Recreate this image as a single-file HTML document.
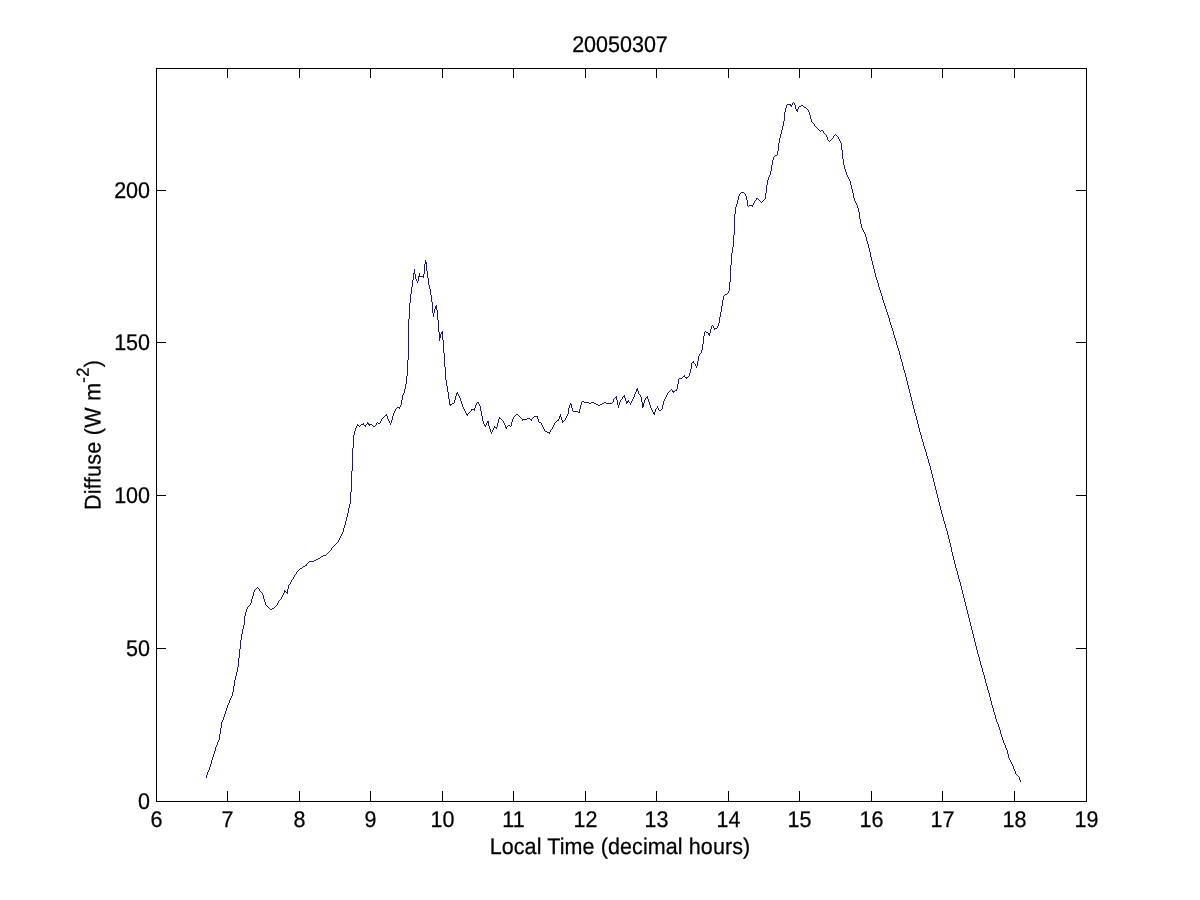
<!DOCTYPE html>
<html lang="en">
<head>
<meta charset="utf-8">
<title>20050307</title>
<style>
html,body{margin:0;padding:0;background:#fff;}
body{width:1200px;height:900px;position:relative;overflow:hidden;
  font-family:"Liberation Sans",sans-serif;font-size:21.5px;color:#000;line-height:30px;-webkit-text-stroke:0.25px #000;}
svg{position:absolute;left:0;top:0;shape-rendering:crispEdges;}
.xt,.yt,.title,.xlabel{transform:rotate(0.03deg) scaleY(1.055);transform-origin:50% 75%;}
.xt{position:absolute;top:805px;width:61px;text-align:center;white-space:nowrap;}
.yt{position:absolute;left:0;width:150px;text-align:right;white-space:nowrap;}
.title{position:absolute;left:319.5px;width:600px;top:30px;text-align:center;white-space:nowrap;}
.xlabel{letter-spacing:0.1px;position:absolute;left:320px;width:600px;top:832px;text-align:center;white-space:nowrap;}
.ylabel{letter-spacing:0.3px;position:absolute;left:93.3px;top:434.5px;width:0;height:0;white-space:nowrap;}
.ylabel span.r{position:absolute;left:0;top:0;display:block;transform:translate(-50%,-50%) rotate(-90.03deg) scaleY(1.055);transform-origin:50% 50%;line-height:30px;}
.ylabel sup{font-size:16.5px;vertical-align:baseline;position:relative;top:-11px;line-height:0;}
</style>
</head>
<body>
<svg width="1200" height="900" viewBox="0 0 1200 900">
<rect x="156.5" y="68.5" width="930" height="733" fill="none" stroke="#000" stroke-width="1"/>
<path d="M227.5 801.5V791M227.5 68.5V78M299.5 801.5V791M299.5 68.5V78M370.5 801.5V791M370.5 68.5V78M442.5 801.5V791M442.5 68.5V78M513.5 801.5V791M513.5 68.5V78M585.5 801.5V791M585.5 68.5V78M656.5 801.5V791M656.5 68.5V78M728.5 801.5V791M728.5 68.5V78M799.5 801.5V791M799.5 68.5V78M871.5 801.5V791M871.5 68.5V78M942.5 801.5V791M942.5 68.5V78M1014.5 801.5V791M1014.5 68.5V78M156.5 648.5H166M1086.5 648.5H1076M156.5 495.5H166M1086.5 495.5H1076M156.5 342.5H166M1086.5 342.5H1076M156.5 190.5H166M1086.5 190.5H1076" fill="none" stroke="#000" stroke-width="1"/>
<path d="M206 775h1v3h-1zM207 772h1v3h-1zM208 770h1v2h-1zM209 767h1v3h-1zM210 764h1v3h-1zM211 760h1v4h-1zM212 757h1v3h-1zM213 754h1v3h-1zM214 751h1v3h-1zM215 747h1v4h-1zM216 745h1v2h-1zM217 742h1v3h-1zM218 740h1v2h-1zM219 734h1v6h-1zM220 728h1v6h-1zM221 722h1v6h-1zM222 720h1v2h-1zM223 717h1v3h-1zM224 714h1v3h-1zM225 711h1v3h-1zM226 708h1v3h-1zM227 705h1v3h-1zM228 703h1v2h-1zM229 700h1v3h-1zM230 698h1v2h-1zM231 696h1v2h-1zM232 692h1v4h-1zM233 686h1v6h-1zM234 680h1v6h-1zM235 676h1v4h-1zM236 672h1v4h-1zM237 667h1v5h-1zM238 658h1v9h-1zM239 649h1v9h-1zM240 640h1v9h-1zM241 634h1v6h-1zM242 629h1v5h-1zM243 625h1v4h-1zM244 616h1v9h-1zM245 612h1v4h-1zM246 609h1v3h-1zM247 607h1v2h-1zM248 606h1v1h-1zM249 605h1v1h-1zM250 603h1v2h-1zM251 599h1v4h-1zM252 596h1v3h-1zM253 592h1v4h-1zM254 590h1v2h-1zM255 589h1v1h-1zM256 588h1v1h-1zM257 587h1v1h-1zM258 588h1v1h-1zM259 589h1v2h-1zM260 591h1v1h-1zM261 592h1v1h-1zM262 593h1v2h-1zM263 595h1v4h-1zM264 599h1v3h-1zM265 602h1v3h-1zM266 605h1v1h-1zM267 606h1v1h-1zM268 607h1v1h-1zM269 608h1v1h-1zM270 609h1v1h-1zM271 609h1v1h-1zM272 608h1v1h-1zM273 608h1v1h-1zM274 607h1v1h-1zM275 606h1v1h-1zM276 605h1v1h-1zM277 603h1v2h-1zM278 601h1v2h-1zM279 600h1v1h-1zM280 599h1v1h-1zM281 597h1v2h-1zM282 595h1v2h-1zM283 593h1v2h-1zM284 590h1v3h-1zM285 591h1v1h-1zM286 592h1v1h-1zM287 589h1v5h-1zM288 585h1v4h-1zM289 584h1v1h-1zM290 582h1v2h-1zM291 580h1v2h-1zM292 579h1v1h-1zM293 577h1v2h-1zM294 575h1v2h-1zM295 574h1v1h-1zM296 572h1v2h-1zM297 571h1v1h-1zM298 570h1v1h-1zM299 569h1v1h-1zM300 568h1v1h-1zM301 568h1v1h-1zM302 567h1v1h-1zM303 566h1v1h-1zM304 566h1v1h-1zM305 565h1v1h-1zM306 564h1v2h-1zM307 563h1v1h-1zM308 562h1v1h-1zM309 561h1v1h-1zM310 561h1v1h-1zM311 561h1v1h-1zM312 561h1v1h-1zM313 561h1v1h-1zM314 560h1v1h-1zM315 560h1v1h-1zM316 559h1v1h-1zM317 559h1v1h-1zM318 558h1v1h-1zM319 558h1v1h-1zM320 557h1v1h-1zM321 556h1v1h-1zM322 556h1v1h-1zM323 555h1v1h-1zM324 555h1v1h-1zM325 555h1v1h-1zM326 554h1v1h-1zM327 553h1v1h-1zM328 552h1v1h-1zM329 551h1v1h-1zM330 550h1v1h-1zM331 548h1v2h-1zM332 547h1v1h-1zM333 546h1v1h-1zM334 545h1v1h-1zM335 544h1v1h-1zM336 543h1v1h-1zM337 542h1v1h-1zM338 540h1v2h-1zM339 538h1v2h-1zM340 536h1v2h-1zM341 534h1v2h-1zM342 532h1v2h-1zM343 528h1v4h-1zM344 525h1v3h-1zM345 521h1v4h-1zM346 517h1v4h-1zM347 513h1v4h-1zM348 508h1v5h-1zM349 504h1v4h-1zM350 492h1v12h-1zM351 471h1v21h-1zM352 448h1v23h-1zM353 435h1v13h-1zM354 431h1v4h-1zM355 428h1v3h-1zM356 426h1v2h-1zM357 424h1v2h-1zM358 425h1v1h-1zM359 426h1v1h-1zM360 425h1v1h-1zM361 424h1v1h-1zM362 424h1v1h-1zM363 423h1v2h-1zM364 425h1v1h-1zM365 425h1v2h-1zM366 424h1v1h-1zM367 422h1v2h-1zM368 423h1v2h-1zM369 424h1v2h-1zM370 424h1v1h-1zM371 424h1v1h-1zM372 425h1v1h-1zM373 426h1v1h-1zM374 426h1v1h-1zM375 425h1v1h-1zM376 423h1v2h-1zM377 422h1v1h-1zM378 423h1v1h-1zM379 423h1v1h-1zM380 421h1v2h-1zM381 419h1v2h-1zM382 418h1v1h-1zM383 417h1v1h-1zM384 416h1v1h-1zM385 415h1v1h-1zM386 414h1v2h-1zM387 416h1v3h-1zM388 419h1v2h-1zM389 421h1v2h-1zM390 423h1v2h-1zM391 420h1v3h-1zM392 416h1v4h-1zM393 413h1v3h-1zM394 411h1v2h-1zM395 409h1v2h-1zM396 408h1v1h-1zM397 407h1v1h-1zM398 407h1v1h-1zM399 407h1v2h-1zM400 405h1v2h-1zM401 400h1v5h-1zM402 395h1v5h-1zM403 393h1v2h-1zM404 389h1v4h-1zM405 384h1v5h-1zM406 376h1v8h-1zM407 360h1v16h-1zM408 319h1v41h-1zM409 303h1v16h-1zM410 294h1v9h-1zM411 287h1v7h-1zM412 280h1v7h-1zM413 273h1v7h-1zM414 269h1v5h-1zM415 274h1v5h-1zM416 279h1v2h-1zM417 281h1v2h-1zM418 276h1v5h-1zM419 273h1v4h-1zM420 276h1v1h-1zM421 276h1v1h-1zM422 276h1v1h-1zM423 274h1v4h-1zM424 264h1v10h-1zM425 260h1v4h-1zM426 262h1v9h-1zM427 271h1v7h-1zM428 278h1v7h-1zM429 285h1v4h-1zM430 289h1v6h-1zM431 295h1v7h-1zM432 302h1v11h-1zM433 313h1v4h-1zM434 309h1v4h-1zM435 306h1v3h-1zM436 305h1v5h-1zM437 310h1v10h-1zM438 320h1v12h-1zM439 332h1v9h-1zM440 334h1v4h-1zM441 332h1v2h-1zM442 331h1v9h-1zM443 340h1v13h-1zM444 353h1v14h-1zM445 367h1v13h-1zM446 380h1v6h-1zM447 386h1v6h-1zM448 392h1v7h-1zM449 399h1v6h-1zM450 404h1v2h-1zM451 404h1v1h-1zM452 403h1v1h-1zM453 403h1v1h-1zM454 400h1v3h-1zM455 396h1v4h-1zM456 393h1v3h-1zM457 392h1v2h-1zM458 394h1v2h-1zM459 396h1v2h-1zM460 398h1v3h-1zM461 401h1v3h-1zM462 404h1v3h-1zM463 407h1v2h-1zM464 409h1v2h-1zM465 411h1v2h-1zM466 413h1v2h-1zM467 414h1v2h-1zM468 413h1v1h-1zM469 412h1v1h-1zM470 411h1v1h-1zM471 409h1v2h-1zM472 409h1v1h-1zM473 409h1v1h-1zM474 408h1v3h-1zM475 405h1v3h-1zM476 403h1v2h-1zM477 402h1v1h-1zM478 402h1v2h-1zM479 404h1v2h-1zM480 406h1v5h-1zM481 411h1v5h-1zM482 416h1v5h-1zM483 421h1v3h-1zM484 424h1v2h-1zM485 425h1v2h-1zM486 423h1v2h-1zM487 421h1v2h-1zM488 421h1v5h-1zM489 426h1v3h-1zM490 429h1v3h-1zM491 432h1v2h-1zM492 430h1v2h-1zM493 428h1v2h-1zM494 426h1v2h-1zM495 427h1v1h-1zM496 427h1v2h-1zM497 423h1v4h-1zM498 419h1v4h-1zM499 417h1v2h-1zM500 418h1v1h-1zM501 419h1v1h-1zM502 420h1v1h-1zM503 421h1v2h-1zM504 423h1v2h-1zM505 425h1v3h-1zM506 427h1v2h-1zM507 426h1v1h-1zM508 425h1v1h-1zM509 425h1v1h-1zM510 426h1v1h-1zM511 422h1v4h-1zM512 419h1v3h-1zM513 417h1v2h-1zM514 416h1v1h-1zM515 415h1v1h-1zM516 414h1v1h-1zM517 414h1v1h-1zM518 415h1v1h-1zM519 416h1v1h-1zM520 417h1v1h-1zM521 418h1v1h-1zM522 419h1v2h-1zM523 419h1v1h-1zM524 419h1v1h-1zM525 419h1v1h-1zM526 419h1v1h-1zM527 418h1v1h-1zM528 418h1v1h-1zM529 418h1v1h-1zM530 419h1v1h-1zM531 419h1v2h-1zM532 418h1v1h-1zM533 417h1v1h-1zM534 416h1v1h-1zM535 416h1v1h-1zM536 416h1v1h-1zM537 416h1v3h-1zM538 419h1v3h-1zM539 422h1v1h-1zM540 422h1v1h-1zM541 423h1v2h-1zM542 425h1v2h-1zM543 427h1v2h-1zM544 429h1v2h-1zM545 431h1v1h-1zM546 431h1v1h-1zM547 432h1v1h-1zM548 432h1v1h-1zM549 432h1v2h-1zM550 430h1v2h-1zM551 429h1v1h-1zM552 427h1v2h-1zM553 425h1v2h-1zM554 423h1v2h-1zM555 422h1v1h-1zM556 421h1v1h-1zM557 420h1v1h-1zM558 419h1v2h-1zM559 416h1v3h-1zM560 414h1v3h-1zM561 417h1v3h-1zM562 420h1v3h-1zM563 421h1v1h-1zM564 420h1v1h-1zM565 418h1v2h-1zM566 416h1v2h-1zM567 414h1v2h-1zM568 408h1v6h-1zM569 405h1v3h-1zM570 403h1v2h-1zM571 404h1v4h-1zM572 408h1v3h-1zM573 411h1v1h-1zM574 411h1v1h-1zM575 411h1v1h-1zM576 411h1v1h-1zM577 411h1v1h-1zM578 412h1v1h-1zM579 409h1v4h-1zM580 405h1v4h-1zM581 402h1v3h-1zM582 401h1v1h-1zM583 401h1v1h-1zM584 402h1v1h-1zM585 402h1v1h-1zM586 402h1v1h-1zM587 402h1v1h-1zM588 402h1v1h-1zM589 403h1v1h-1zM590 403h1v1h-1zM591 402h1v1h-1zM592 402h1v1h-1zM593 402h1v1h-1zM594 403h1v1h-1zM595 403h1v1h-1zM596 404h1v1h-1zM597 404h1v1h-1zM598 405h1v1h-1zM599 405h1v1h-1zM600 404h1v1h-1zM601 404h1v1h-1zM602 403h1v1h-1zM603 403h1v1h-1zM604 402h1v1h-1zM605 402h1v1h-1zM606 403h1v1h-1zM607 403h1v1h-1zM608 403h1v1h-1zM609 403h1v1h-1zM610 403h1v1h-1zM611 403h1v1h-1zM612 402h1v1h-1zM613 399h1v3h-1zM614 398h1v1h-1zM615 397h1v1h-1zM616 396h1v4h-1zM617 400h1v5h-1zM618 405h1v3h-1zM619 402h1v3h-1zM620 400h1v2h-1zM621 399h1v1h-1zM622 397h1v2h-1zM623 396h1v1h-1zM624 395h1v3h-1zM625 398h1v3h-1zM626 401h1v3h-1zM627 401h1v2h-1zM628 400h1v2h-1zM629 402h1v1h-1zM630 403h1v2h-1zM631 401h1v2h-1zM632 399h1v2h-1zM633 397h1v2h-1zM634 394h1v3h-1zM635 392h1v2h-1zM636 389h1v3h-1zM637 388h1v3h-1zM638 391h1v3h-1zM639 394h1v1h-1zM640 395h1v2h-1zM641 397h1v5h-1zM642 402h1v6h-1zM643 403h1v4h-1zM644 400h1v3h-1zM645 398h1v2h-1zM646 397h1v1h-1zM647 396h1v3h-1zM648 399h1v3h-1zM649 402h1v3h-1zM650 405h1v3h-1zM651 408h1v2h-1zM652 410h1v2h-1zM653 412h1v2h-1zM654 412h1v3h-1zM655 409h1v3h-1zM656 408h1v1h-1zM657 406h1v2h-1zM658 408h1v2h-1zM659 410h1v1h-1zM660 410h1v1h-1zM661 409h1v1h-1zM662 405h1v4h-1zM663 401h1v4h-1zM664 399h1v2h-1zM665 397h1v2h-1zM666 395h1v2h-1zM667 393h1v2h-1zM668 392h1v1h-1zM669 391h1v1h-1zM670 390h1v1h-1zM671 389h1v1h-1zM672 390h1v2h-1zM673 391h1v2h-1zM674 391h1v1h-1zM675 390h1v1h-1zM676 389h1v2h-1zM677 384h1v5h-1zM678 379h1v5h-1zM679 378h1v1h-1zM680 378h1v1h-1zM681 378h1v1h-1zM682 377h1v1h-1zM683 376h1v1h-1zM684 375h1v2h-1zM685 377h1v1h-1zM686 377h1v2h-1zM687 377h1v1h-1zM688 376h1v1h-1zM689 373h1v3h-1zM690 369h1v4h-1zM691 363h1v6h-1zM692 362h1v1h-1zM693 361h1v2h-1zM694 363h1v1h-1zM695 364h1v2h-1zM696 366h1v2h-1zM697 361h1v5h-1zM698 356h1v5h-1zM699 354h1v2h-1zM700 353h1v1h-1zM701 350h1v3h-1zM702 344h1v6h-1zM703 336h1v8h-1zM704 332h1v4h-1zM705 331h1v1h-1zM706 332h1v1h-1zM707 332h1v1h-1zM708 333h1v2h-1zM709 333h1v3h-1zM710 329h1v4h-1zM711 326h1v3h-1zM712 325h1v1h-1zM713 326h1v2h-1zM714 328h1v2h-1zM715 328h1v1h-1zM716 328h1v1h-1zM717 326h1v2h-1zM718 323h1v3h-1zM719 317h1v6h-1zM720 312h1v5h-1zM721 306h1v6h-1zM722 300h1v6h-1zM723 296h1v4h-1zM724 295h1v1h-1zM725 294h1v1h-1zM726 294h1v1h-1zM727 293h1v1h-1zM728 291h1v2h-1zM729 282h1v9h-1zM730 265h1v17h-1zM731 253h1v12h-1zM732 247h1v6h-1zM733 235h1v12h-1zM734 214h1v21h-1zM735 207h1v7h-1zM736 204h1v3h-1zM737 200h1v4h-1zM738 196h1v4h-1zM739 194h1v2h-1zM740 193h1v1h-1zM741 192h1v1h-1zM742 192h1v1h-1zM743 192h1v1h-1zM744 193h1v1h-1zM745 194h1v2h-1zM746 196h1v4h-1zM747 200h1v6h-1zM748 206h1v1h-1zM749 205h1v1h-1zM750 205h1v1h-1zM751 205h1v1h-1zM752 205h1v2h-1zM753 203h1v2h-1zM754 201h1v2h-1zM755 200h1v1h-1zM756 198h1v2h-1zM757 198h1v1h-1zM758 199h1v1h-1zM759 200h1v1h-1zM760 201h1v1h-1zM761 202h1v1h-1zM762 201h1v1h-1zM763 200h1v1h-1zM764 199h1v1h-1zM765 193h1v6h-1zM766 185h1v8h-1zM767 180h1v5h-1zM768 177h1v3h-1zM769 175h1v2h-1zM770 171h1v4h-1zM771 165h1v6h-1zM772 160h1v5h-1zM773 157h1v3h-1zM774 156h1v1h-1zM775 155h1v1h-1zM776 155h1v1h-1zM777 151h1v4h-1zM778 143h1v8h-1zM779 138h1v5h-1zM780 134h1v4h-1zM781 130h1v4h-1zM782 126h1v4h-1zM783 121h1v5h-1zM784 112h1v9h-1zM785 108h1v4h-1zM786 105h1v3h-1zM787 104h1v1h-1zM788 104h1v1h-1zM789 104h1v1h-1zM790 104h1v2h-1zM791 105h1v2h-1zM792 103h1v2h-1zM793 102h1v1h-1zM794 103h1v2h-1zM795 105h1v4h-1zM796 109h1v2h-1zM797 109h1v3h-1zM798 107h1v2h-1zM799 106h1v1h-1zM800 106h1v1h-1zM801 105h1v1h-1zM802 105h1v1h-1zM803 106h1v1h-1zM804 107h1v1h-1zM805 107h1v1h-1zM806 108h1v1h-1zM807 109h1v1h-1zM808 110h1v2h-1zM809 112h1v3h-1zM810 115h1v4h-1zM811 119h1v3h-1zM812 122h1v1h-1zM813 123h1v1h-1zM814 124h1v2h-1zM815 126h1v1h-1zM816 127h1v1h-1zM817 128h1v1h-1zM818 129h1v1h-1zM819 130h1v1h-1zM820 131h1v1h-1zM821 130h1v1h-1zM822 130h1v1h-1zM823 131h1v2h-1zM824 133h1v1h-1zM825 134h1v1h-1zM826 135h1v2h-1zM827 137h1v3h-1zM828 140h1v1h-1zM829 141h1v1h-1zM830 140h1v1h-1zM831 139h1v1h-1zM832 138h1v1h-1zM833 136h1v2h-1zM834 135h1v1h-1zM835 134h1v1h-1zM836 135h1v1h-1zM837 136h1v1h-1zM838 137h1v2h-1zM839 139h1v2h-1zM840 141h1v2h-1zM841 143h1v7h-1zM842 150h1v9h-1zM843 159h1v6h-1zM844 165h1v4h-1zM845 169h1v3h-1zM846 172h1v3h-1zM847 175h1v2h-1zM848 177h1v2h-1zM849 179h1v2h-1zM850 181h1v4h-1zM851 185h1v4h-1zM852 189h1v4h-1zM853 193h1v5h-1zM854 198h1v3h-1zM855 201h1v2h-1zM856 203h1v2h-1zM857 205h1v3h-1zM858 208h1v4h-1zM859 212h1v7h-1zM860 219h1v5h-1zM861 224h1v4h-1zM862 228h1v2h-1zM863 230h1v2h-1zM864 232h1v2h-1zM865 234h1v3h-1zM866 237h1v4h-1zM867 241h1v3h-1zM868 244h1v4h-1zM869 248h1v4h-1zM870 252h1v5h-1zM871 257h1v4h-1zM872 261h1v4h-1zM873 265h1v4h-1zM874 269h1v4h-1zM875 273h1v4h-1zM876 277h1v3h-1zM877 280h1v3h-1zM878 283h1v4h-1zM879 287h1v3h-1zM880 290h1v3h-1zM881 293h1v3h-1zM882 296h1v4h-1zM883 300h1v3h-1zM884 303h1v3h-1zM885 306h1v3h-1zM886 309h1v3h-1zM887 312h1v3h-1zM888 315h1v3h-1zM889 318h1v4h-1zM890 322h1v3h-1zM891 325h1v3h-1zM892 328h1v3h-1zM893 331h1v4h-1zM894 335h1v3h-1zM895 338h1v3h-1zM896 341h1v4h-1zM897 345h1v3h-1zM898 348h1v3h-1zM899 351h1v4h-1zM900 355h1v4h-1zM901 359h1v3h-1zM902 362h1v4h-1zM903 366h1v4h-1zM904 370h1v3h-1zM905 373h1v4h-1zM906 377h1v4h-1zM907 381h1v4h-1zM908 385h1v4h-1zM909 389h1v4h-1zM910 393h1v4h-1zM911 397h1v4h-1zM912 401h1v4h-1zM913 405h1v4h-1zM914 409h1v4h-1zM915 413h1v3h-1zM916 416h1v4h-1zM917 420h1v4h-1zM918 424h1v4h-1zM919 428h1v4h-1zM920 432h1v3h-1zM921 435h1v4h-1zM922 439h1v3h-1zM923 442h1v4h-1zM924 446h1v3h-1zM925 449h1v3h-1zM926 452h1v4h-1zM927 456h1v3h-1zM928 459h1v4h-1zM929 463h1v3h-1zM930 466h1v4h-1zM931 470h1v4h-1zM932 474h1v4h-1zM933 478h1v4h-1zM934 482h1v4h-1zM935 486h1v4h-1zM936 490h1v4h-1zM937 494h1v4h-1zM938 498h1v4h-1zM939 502h1v4h-1zM940 506h1v4h-1zM941 510h1v4h-1zM942 514h1v3h-1zM943 517h1v4h-1zM944 521h1v3h-1zM945 524h1v4h-1zM946 528h1v3h-1zM947 531h1v4h-1zM948 535h1v4h-1zM949 539h1v4h-1zM950 543h1v4h-1zM951 547h1v5h-1zM952 552h1v4h-1zM953 556h1v4h-1zM954 560h1v4h-1zM955 564h1v4h-1zM956 568h1v3h-1zM957 571h1v4h-1zM958 575h1v4h-1zM959 579h1v3h-1zM960 582h1v4h-1zM961 586h1v4h-1zM962 590h1v4h-1zM963 594h1v4h-1zM964 598h1v4h-1zM965 602h1v4h-1zM966 606h1v4h-1zM967 610h1v4h-1zM968 614h1v4h-1zM969 618h1v4h-1zM970 622h1v4h-1zM971 626h1v4h-1zM972 630h1v4h-1zM973 634h1v4h-1zM974 638h1v4h-1zM975 642h1v4h-1zM976 646h1v4h-1zM977 650h1v4h-1zM978 654h1v3h-1zM979 657h1v4h-1zM980 661h1v4h-1zM981 665h1v3h-1zM982 668h1v4h-1zM983 672h1v3h-1zM984 675h1v4h-1zM985 679h1v4h-1zM986 683h1v3h-1zM987 686h1v4h-1zM988 690h1v3h-1zM989 693h1v4h-1zM990 697h1v4h-1zM991 701h1v4h-1zM992 705h1v3h-1zM993 708h1v4h-1zM994 712h1v3h-1zM995 715h1v4h-1zM996 719h1v3h-1zM997 722h1v2h-1zM998 724h1v3h-1zM999 727h1v3h-1zM1000 730h1v4h-1zM1001 734h1v3h-1zM1002 737h1v3h-1zM1003 740h1v3h-1zM1004 743h1v2h-1zM1005 745h1v3h-1zM1006 748h1v2h-1zM1007 750h1v4h-1zM1008 754h1v4h-1zM1009 758h1v2h-1zM1010 760h1v2h-1zM1011 762h1v2h-1zM1012 764h1v2h-1zM1013 766h1v3h-1zM1014 769h1v2h-1zM1015 771h1v3h-1zM1016 774h1v1h-1zM1017 775h1v1h-1zM1018 776h1v1h-1zM1019 777h1v3h-1zM1020 780h1v2h-1z" fill="#181878" stroke="none"/>
</svg>
<div class="title">20050307</div>
<div class="xt" style="left:126px">6</div>
<div class="xt" style="left:197px">7</div>
<div class="xt" style="left:269px">8</div>
<div class="xt" style="left:340px">9</div>
<div class="xt" style="left:412px">10</div>
<div class="xt" style="left:483px">11</div>
<div class="xt" style="left:555px">12</div>
<div class="xt" style="left:626px">13</div>
<div class="xt" style="left:698px">14</div>
<div class="xt" style="left:769px">15</div>
<div class="xt" style="left:841px">16</div>
<div class="xt" style="left:912px">17</div>
<div class="xt" style="left:984px">18</div>
<div class="xt" style="left:1056px">19</div>
<div class="yt" style="top:787px">0</div>
<div class="yt" style="top:634px">50</div>
<div class="yt" style="top:481px">100</div>
<div class="yt" style="top:328px">150</div>
<div class="yt" style="top:176px">200</div>
<div class="xlabel">Local Time (decimal hours)</div>
<div class="ylabel"><span class="r">Diffuse (W m<sup>-2</sup>)</span></div>
</body>
</html>
